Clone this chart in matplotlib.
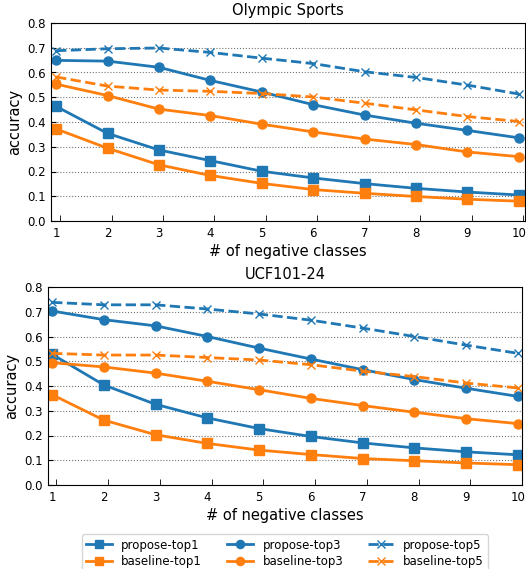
import numpy as np
import matplotlib
matplotlib.use('Agg')
from matplotlib import pyplot as plt

neg = np.arange(1, 11)

# Olympic Sports
oly_propose_top1 = [0.463, 0.354, 0.287, 0.244, 0.201, 0.174, 0.151, 0.132, 0.117, 0.105]
oly_baseline_top1 = [0.372, 0.294, 0.227, 0.184, 0.152, 0.127, 0.112, 0.099, 0.088, 0.080]
oly_propose_top3 = [0.649, 0.646, 0.621, 0.568, 0.521, 0.470, 0.428, 0.395, 0.366, 0.336]
oly_baseline_top3 = [0.553, 0.507, 0.452, 0.426, 0.391, 0.360, 0.331, 0.309, 0.279, 0.260]
oly_propose_top5 = [0.688, 0.696, 0.699, 0.681, 0.658, 0.636, 0.603, 0.580, 0.549, 0.513]
oly_baseline_top5 = [0.582, 0.545, 0.529, 0.524, 0.515, 0.501, 0.476, 0.449, 0.422, 0.402]

# UCF101-24
ucf_propose_top1 = [0.528, 0.404, 0.326, 0.271, 0.228, 0.196, 0.170, 0.150, 0.134, 0.122]
ucf_baseline_top1 = [0.365, 0.262, 0.203, 0.168, 0.141, 0.123, 0.107, 0.098, 0.089, 0.082]
ucf_propose_top3 = [0.703, 0.668, 0.643, 0.600, 0.553, 0.509, 0.466, 0.426, 0.391, 0.358]
ucf_baseline_top3 = [0.494, 0.477, 0.452, 0.419, 0.385, 0.350, 0.321, 0.294, 0.268, 0.248]
ucf_propose_top5 = [0.738, 0.728, 0.728, 0.711, 0.691, 0.666, 0.634, 0.600, 0.565, 0.532]
ucf_baseline_top5 = [0.532, 0.525, 0.525, 0.515, 0.505, 0.486, 0.460, 0.438, 0.412, 0.392]

blue = '#1f77b4'
orange = '#ff7f0e'

fig = plt.figure(figsize=(5.26, 5.69), dpi=100)
ax1 = fig.add_axes([51/526, 1 - 221/569, 474/526, 198/569])
ax2 = fig.add_axes([48/526, 1 - 485/569, 474/526, 198/569])


def draw(ax, title, xlim, p1, b1, p3, b3, p5, b5):
    ax.plot(neg, p1, color=blue, marker='s', ms=6.5, lw=2, label='propose-top1')
    ax.plot(neg, b1, color=orange, marker='s', ms=6.5, lw=2, label='baseline-top1')
    ax.plot(neg, p3, color=blue, marker='o', ms=6.5, lw=2, label='propose-top3')
    ax.plot(neg, b3, color=orange, marker='o', ms=6.5, lw=2, label='baseline-top3')
    ax.plot(neg, p5, color=blue, marker='x', ms=6, lw=2, ls='--', label='propose-top5')
    ax.plot(neg, b5, color=orange, marker='x', ms=6, lw=2, ls='--', label='baseline-top5')
    ax.set_ylim(0, 0.8)
    ax.set_xlim(*xlim)
    ax.set_xticks(neg)
    ax.set_xticks(neg + 0.08, minor=True)
    ax.tick_params(axis='x', which='major', length=0, labelsize=8.5, pad=4)
    ax.tick_params(axis='x', which='minor', direction='in', length=4)
    ax.tick_params(axis='y', direction='in', labelsize=8.5)
    ax.set_yticks(np.arange(0, 0.81, 0.1))
    ax.yaxis.grid(True, color='gray', lw=1.8, alpha=0.55)
    ax.yaxis.grid(True, color='black', lw=0.8, ls=':')
    ax.set_axisbelow(True)
    ax.set_title(title, fontsize=10.5)
    ax.set_xlabel('# of negative classes', fontsize=10.5, labelpad=3)
    ax.set_ylabel('accuracy', fontsize=10.5)


draw(ax1, 'Olympic Sports', (0.9, 10.12), oly_propose_top1, oly_baseline_top1,
     oly_propose_top3, oly_baseline_top3, oly_propose_top5, oly_baseline_top5)
draw(ax2, 'UCF101-24', (0.92, 10.08), ucf_propose_top1, ucf_baseline_top1,
     ucf_propose_top3, ucf_baseline_top3, ucf_propose_top5, ucf_baseline_top5)

ax2.legend(loc='upper center', bbox_to_anchor=(0.5, -0.22), ncol=3, fontsize=8.5,
           columnspacing=2.1, handlelength=2.2, markerscale=0.9, labelspacing=0.3,
           borderpad=0.35)

fig.savefig('out.png', dpi=100)
